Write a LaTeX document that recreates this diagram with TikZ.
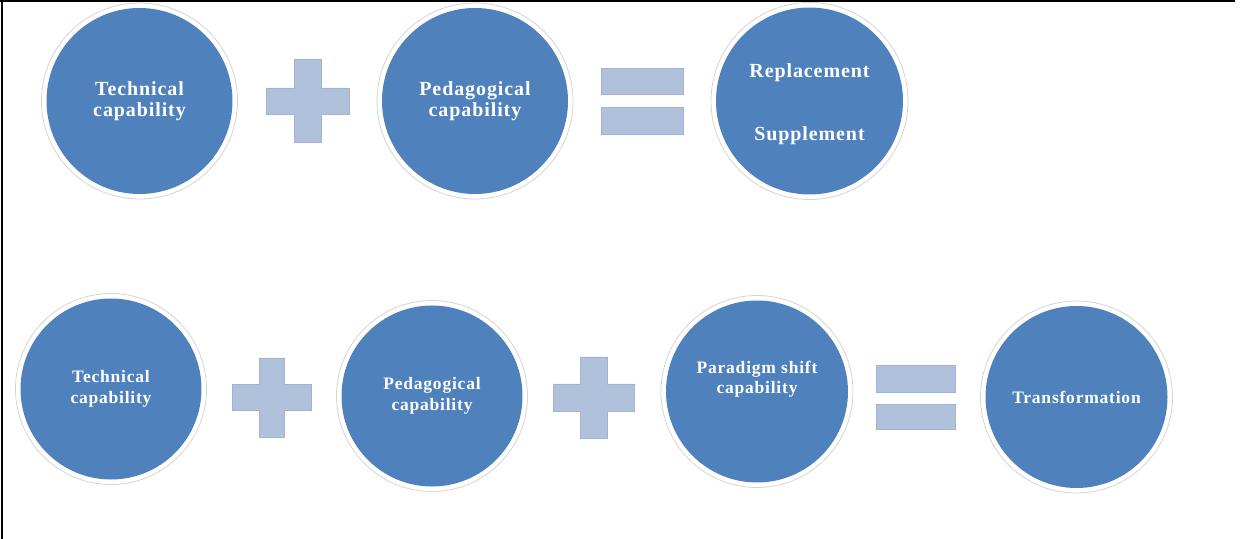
\documentclass[tikz,border=0pt]{standalone}
\usepackage{fontspec}
\setmainfont{Liberation Serif}[LetterSpace=4.5]
\definecolor{discblue}{HTML}{4F81BD}
\definecolor{signblue}{HTML}{B0C1DC}
\definecolor{signedge}{HTML}{A3B4D0}
\definecolor{ringgray}{HTML}{D4D4D4}
\begin{document}
\begin{tikzpicture}[x=1bp,y=-1bp,
  disc/.style={circle, fill=discblue, text=white, inner sep=0pt,
    align=center, font=\bfseries\fontsize{20bp}{21bp}\selectfont},
  smalldisc/.style={disc, font=\bfseries\fontsize{17.5bp}{20.5bp}\selectfont},
  ring/.style={draw=ringgray, line width=0.8bp},
  sign/.style={fill=signblue, draw=signedge, line width=0.5bp}
]
% page frame
\useasboundingbox (0,0) rectangle (1240,539);
\draw[line width=1.6bp] (0,0.8) -- (1235,0.8);
\draw[line width=2.2bp] (2,0) -- (2,539);

% plus sign: centre x, centre y, half bar width, half bar length
\newcommand{\plussign}[5]{%
  \fill[sign] (#1-#3,#2-#4) -- (#1+#3,#2-#4) -- (#1+#3,#2-#5) -- (#1+#4,#2-#5)
    -- (#1+#4,#2+#5) -- (#1+#3,#2+#5) -- (#1+#3,#2+#4) -- (#1-#3,#2+#4)
    -- (#1-#3,#2+#5) -- (#1-#4,#2+#5) -- (#1-#4,#2-#5) -- (#1-#3,#2-#5) -- cycle;}

% top row
\node[disc, minimum size=186bp] (tech1) at (139.5,101) {Technical\\capability};
\node[disc, minimum size=186bp] (peda1) at (475,101) {Pedagogical\\capability};
\node[disc, minimum size=187bp] (result1) at (809.5,101) {\rule{0pt}{20bp}Replacement\\[42bp]Supplement};
\foreach \n/\r in {tech1/98, peda1/98, result1/98.5}
  \draw[ring] (\n.center) circle[radius=\r];

\plussign{307.5}{101}{13.5}{41.5}{13}
\fill[sign] (601,68) rectangle (683,94);
\fill[sign] (601,107) rectangle (683,134);

% bottom row
\node[smalldisc, minimum size=181bp] (tech2) at (111,389) {Technical\\capability};
\node[smalldisc, minimum size=181bp] (peda2) at (432,396) {Pedagogical\\capability};
\node[smalldisc, minimum size=182bp, text depth=0pt] (shift2) at (757,391.5) {Paradigm shift\\capability\\[8bp]\mbox{}};
\node[smalldisc, minimum size=182bp] (result2) at (1076.5,397) {Transformation};
\foreach \n/\r in {tech2/95.5, peda2/95.5, shift2/96, result2/96}
  \draw[ring] (\n.center) circle[radius=\r];

\plussign{271.5}{397.5}{12.5}{39.5}{13}
\plussign{593.5}{397.5}{13.5}{40.5}{13.5}
\fill[sign] (876,365) rectangle (955,392);
\fill[sign] (876,404) rectangle (955,429);
\end{tikzpicture}
\end{document}
